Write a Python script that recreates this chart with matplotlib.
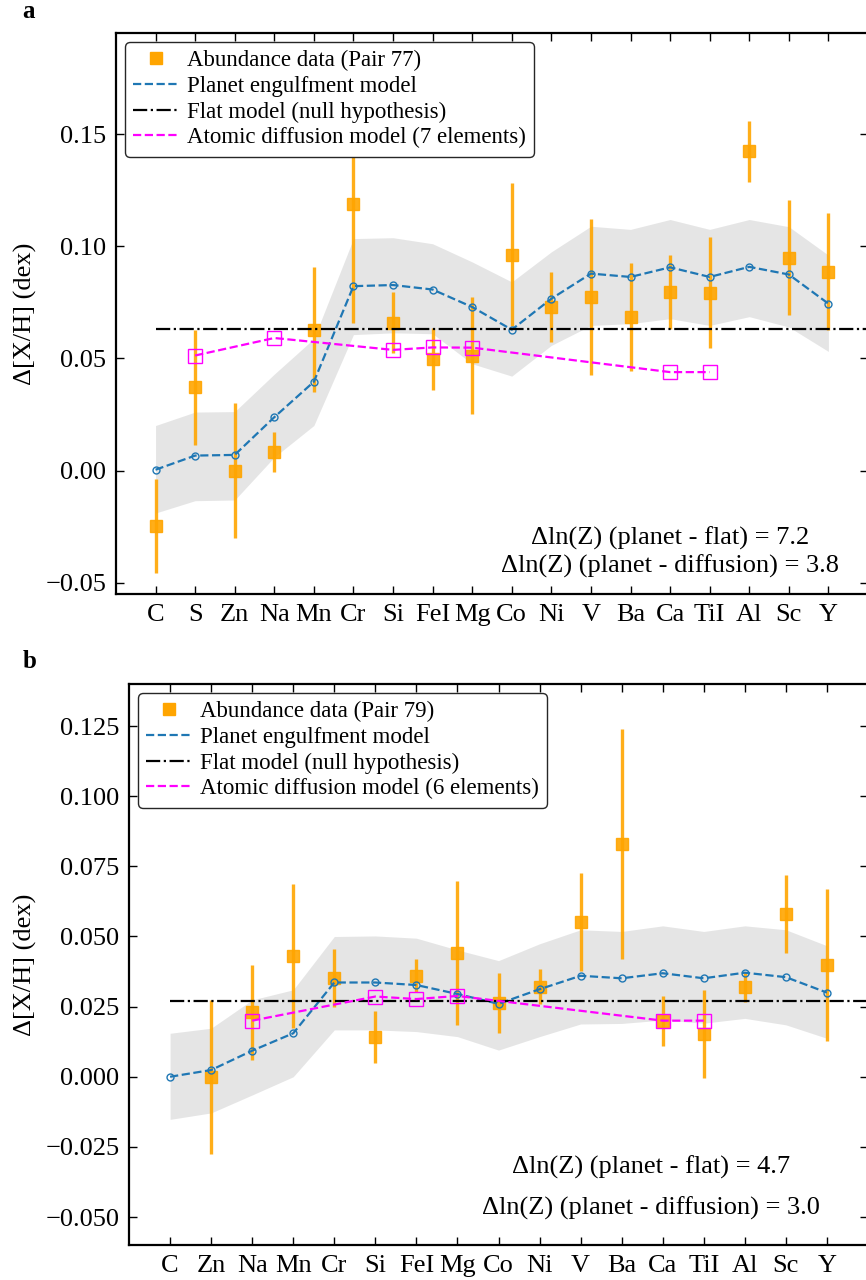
import matplotlib

matplotlib.use("Agg")
import matplotlib.pyplot as plt
import numpy as np
from matplotlib.lines import Line2D

plt.rcParams["font.family"] = ["Liberation Serif", "DejaVu Serif"]

# ---------- panel a (Pair 77) ----------
elements_a = ["C", "S", "Zn", "Na", "Mn", "Cr", "Si", "FeI", "Mg", "Co",
              "Ni", "V", "Ba", "Ca", "TiI", "Al", "Sc", "Y"]
abund_a = [-0.0246, 0.0372, 0.0000, 0.0085, 0.0628, 0.1188, 0.0659, 0.0496, 0.0513,
           0.0963, 0.0729, 0.0774, 0.0685, 0.0796, 0.0792, 0.1423, 0.0948, 0.0886]
err_a = [0.0210, 0.0256, 0.0300, 0.0089, 0.0278, 0.0530, 0.0136, 0.0138, 0.0260,
         0.0320, 0.0158, 0.0348, 0.0241, 0.0163, 0.0247, 0.0136, 0.0256, 0.0260]
planet_a = [0.0004, 0.0067, 0.0070, 0.0238, 0.0396, 0.0822, 0.0827, 0.0807, 0.0729,
            0.0628, 0.0766, 0.0878, 0.0863, 0.0906, 0.0863, 0.0908, 0.0874, 0.0744]
band_hi_a = [0.0201, 0.0261, 0.0263, 0.0430, 0.0588, 0.1034, 0.1038, 0.1011, 0.0930,
             0.0841, 0.0975, 0.1089, 0.1075, 0.1119, 0.1075, 0.1119, 0.1087, 0.0960]
band_lo_a = [-0.0189, -0.0134, -0.0131, 0.0060, 0.0201, 0.0606, 0.0614, 0.0610, 0.0476,
             0.0421, 0.0558, 0.0647, 0.0655, 0.0677, 0.0647, 0.0686, 0.0640, 0.0531]
diff_el_a = ["S", "Na", "Si", "FeI", "Mg", "Ca", "TiI"]
diff_a = [0.0513, 0.0591, 0.0538, 0.0549, 0.0548, 0.0439, 0.0439]
flat_a = 0.063

# ---------- panel b (Pair 79) ----------
elements_b = ["C", "Zn", "Na", "Mn", "Cr", "Si", "FeI", "Mg", "Co", "Ni",
              "V", "Ba", "Ca", "TiI", "Al", "Sc", "Y"]
abund_b = [np.nan, 0.0000, 0.0230, 0.0431, 0.0351, 0.0141, 0.0360, 0.0441, 0.0262,
           0.0321, 0.0551, 0.0831, 0.0200, 0.0152, 0.0319, 0.0581, 0.0399]
err_b = [np.nan, 0.0274, 0.0170, 0.0256, 0.0104, 0.0092, 0.0058, 0.0256, 0.0107,
         0.0062, 0.0175, 0.0410, 0.0089, 0.0156, 0.0053, 0.0139, 0.0272]
planet_b = [0.0000, 0.0024, 0.0093, 0.0155, 0.0336, 0.0336, 0.0327, 0.0295, 0.0260,
            0.0312, 0.0360, 0.0351, 0.0369, 0.0351, 0.0371, 0.0355, 0.0300]
band_hi_b = [0.0155, 0.0173, 0.0274, 0.0310, 0.0500, 0.0502, 0.0494, 0.0452, 0.0414,
             0.0474, 0.0524, 0.0518, 0.0538, 0.0518, 0.0538, 0.0524, 0.0467]
band_lo_b = [-0.0152, -0.0129, -0.0065, 0.0000, 0.0167, 0.0167, 0.0161, 0.0143, 0.0095,
             0.0143, 0.0188, 0.0190, 0.0202, 0.0191, 0.0208, 0.0185, 0.0137]
diff_el_b = ["Na", "Si", "FeI", "Mg", "Ca", "TiI"]
diff_b = [0.0200, 0.0286, 0.0277, 0.0288, 0.0200, 0.0200]
flat_b = 0.0271

BLUE = "#1f77b4"


def draw_panel(ax, elements, abund, err, planet, band_lo, band_hi,
               diff_el, diff, flat, pair, ylim, yticks, yfmt, notes, note_pos):
    x = np.arange(len(elements))
    ax.fill_between(x, band_lo, band_hi, color="gray", alpha=0.2, lw=0, zorder=1)
    ax.errorbar(x, abund, yerr=err, fmt="s", color="orange", ms=9, elinewidth=2.4,
                capsize=0, alpha=0.9, zorder=2)
    ax.plot(x, planet, "--o", color=BLUE, lw=1.6, ms=5, mfc="none", mew=1.0, zorder=3)
    ax.plot([0, len(elements)], [flat, flat], "-.", color="k", lw=1.6, zorder=4)
    xd = [elements.index(e) for e in diff_el]
    ax.plot(xd, diff, "--s", color="magenta", lw=1.6, ms=10, mfc="none", mew=1.0, zorder=5)

    ax.set_xlim(-1, len(elements))
    ax.set_ylim(*ylim)
    ax.set_xticks(x, elements)
    ax.set_yticks(yticks, [yfmt.format(v).replace("-", "\u2212") for v in yticks])
    ax.tick_params(direction="in", top=True, right=True, length=6, width=1,
                   labelsize=19, pad=7)
    for s in ax.spines.values():
        s.set_linewidth(1.6)
    ax.set_ylabel("\u0394[X/H] (dex)", fontsize=19, labelpad=6)

    # legend shows plain line styles, as in the paper figure
    handles = [
        Line2D([], [], ls="none", marker="s", color="orange", ms=9),
        Line2D([], [], ls="--", color=BLUE, lw=1.6),
        Line2D([], [], ls="-.", color="k", lw=1.6),
        Line2D([], [], ls="--", color="magenta", lw=1.6),
    ]
    labels = [f"Abundance data (Pair {pair})", "Planet engulfment model",
              "Flat model (null hypothesis)",
              f"Atomic diffusion model ({len(diff_el)} elements)"]
    leg = ax.legend(handles, labels, loc="upper left", fontsize=16.5, labelspacing=0.2,
                    handlelength=2.0, handletextpad=0.35, borderpad=0.35,
                    borderaxespad=0.4, fancybox=True, framealpha=1)
    leg.get_frame().set_edgecolor("0.15")
    leg.get_frame().set_linewidth(1.0)

    for (tx, ty), t in zip(note_pos, notes):
        ax.text(tx, ty, t, transform=ax.transAxes, ha="center", va="center",
                fontsize=19)


fig = plt.figure(figsize=(8.66, 12.8), dpi=100)
ax_a = fig.add_axes([0.1339, 0.5359, 0.8684, 0.4383])
ax_b = fig.add_axes([0.1490, 0.0273, 0.8533, 0.4383])

draw_panel(ax_a, elements_a, abund_a, err_a, planet_a, band_lo_a, band_hi_a,
           diff_el_a, diff_a, flat_a, 77, (-0.055, 0.195),
           [-0.05, 0.0, 0.05, 0.10, 0.15], "{:.2f}",
           ["\u0394ln(Z) (planet - flat) = 7.2",
            "\u0394ln(Z) (planet - diffusion) = 3.8"],
           [(0.737, 0.100), (0.737, 0.049)])
draw_panel(ax_b, elements_b, abund_b, err_b, planet_b, band_lo_b, band_hi_b,
           diff_el_b, diff_b, flat_b, 79, (-0.06, 0.14),
           [-0.05, -0.025, 0.0, 0.025, 0.05, 0.075, 0.10, 0.125], "{:.3f}",
           ["\u0394ln(Z) (planet - flat) = 4.7",
            "\u0394ln(Z) (planet - diffusion) = 3.0"],
           [(0.706, 0.139), (0.706, 0.066)])

fig.text(22 / 866, 1 - 12 / 1280, "a", fontsize=18, fontweight="bold", ha="left", va="center")
fig.text(23 / 866, 1 - 661 / 1280, "b", fontsize=18, fontweight="bold", ha="left", va="center")

fig.savefig("out.png", dpi=100)
